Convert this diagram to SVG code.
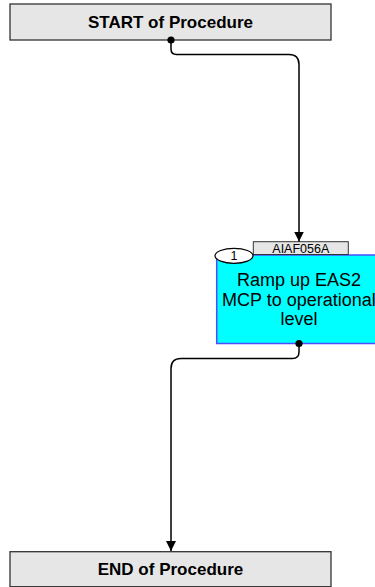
<svg xmlns="http://www.w3.org/2000/svg" width="375" height="587" viewBox="0 0 375 587">
<style>
.term{fill:#E6E6E6;stroke:#333;stroke-width:1.3}
.tt{font-family:"Liberation Sans",Arial,sans-serif;font-weight:bold;font-size:17px;fill:#000;text-anchor:middle}
.task{fill:#00FFFF;stroke:#4D4DFF;stroke-width:1.5}
.tx{font-family:"Liberation Sans",Arial,sans-serif;font-size:18px;fill:#000;text-anchor:middle}
.sm{font-family:"Liberation Sans",Arial,sans-serif;font-size:12.5px;fill:#000;text-anchor:middle}
.conn{fill:none;stroke:#000;stroke-width:1.5}
</style>
<defs>
<marker id="arr" viewBox="0 0 10 10" refX="10" refY="5" markerWidth="10" markerHeight="10" markerUnits="userSpaceOnUse" orient="auto">
<path d="M0,0 L10,5 L0,10 z" fill="#000"/>
</marker>
</defs>
<g id="start">
<rect class="term" x="10" y="4" width="321" height="36"/>
<text class="tt" x="170.5" y="28">START of Procedure</text>
</g>
<g id="task1">
<rect class="task" x="216.7" y="255" width="165" height="88.5"/>
<rect x="253.3" y="241.7" width="95" height="12.8" fill="#E6E6E6" stroke="#333" stroke-width="1"/>
<text class="sm" x="300.8" y="252.8">AIAF056A</text>
<ellipse cx="234" cy="255.8" rx="19" ry="7.5" fill="#fff" stroke="#000" stroke-width="1.2"/>
<text class="sm" x="234" y="260.2">1</text>
<text class="tx" x="299" y="286">Ramp up EAS2</text>
<text class="tx" x="299" y="305.5">MCP to operational</text>
<text class="tx" x="299" y="325">level</text>
</g>
<g id="end">
<rect class="term" x="10" y="551.7" width="321" height="35"/>
<text class="tt" x="170.5" y="575">END of Procedure</text>
</g>
<g id="connectors">
<path class="conn" d="M171,40 V49 Q171,54.5 176.5,54.5 H289 Q299,54.5 299,64.5 V241.5" marker-end="url(#arr)"/>
<circle cx="171" cy="40" r="3.6" fill="#000"/>
<path class="conn" d="M299,343.5 V352 Q299,358.5 292.5,358.5 H181 Q171,358.5 171,368.5 V551" marker-end="url(#arr)"/>
<circle cx="299" cy="343.5" r="3.6" fill="#000"/>
</g>
</svg>
